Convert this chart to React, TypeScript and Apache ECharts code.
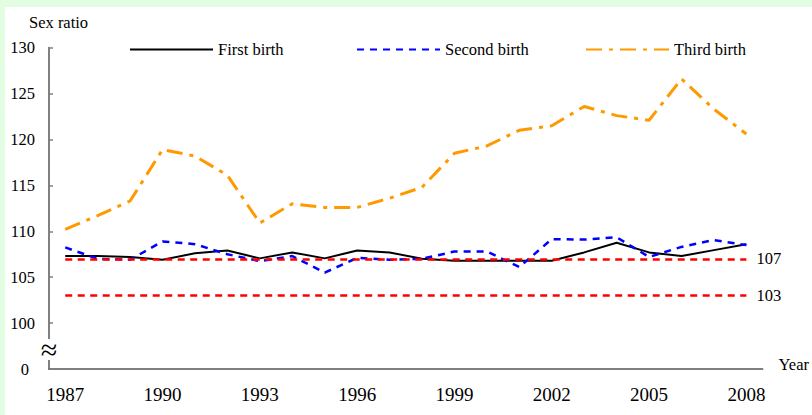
import React, { useEffect, useRef } from 'react';
import * as echarts from 'echarts';

const years = ['1987','1988','1989','1990','1991','1992','1993','1994','1995','1996','1997','1998','1999','2000','2001','2002','2003','2004','2005','2006','2007','2008'];
const firstBirth = [107.3,107.3,107.2,106.9,107.6,107.9,107.05,107.7,107.05,107.9,107.7,107.0,106.8,106.8,106.8,106.8,107.7,108.75,107.7,107.3,107.95,108.6];
const secondBirth = [108.25,107.0,106.9,108.9,108.6,107.5,106.75,107.3,105.5,107.1,106.9,107.0,107.8,107.8,106.1,109.15,109.1,109.35,107.2,108.3,109.05,108.5];
const thirdBirth = [110.2,111.7,113.3,118.9,118.2,116.1,110.9,113.0,112.6,112.6,113.6,114.8,118.5,119.3,121.0,121.5,123.6,122.6,122.1,126.6,123.3,120.6];
const refLevels = [107, 103];
const yTicks = [95, 100, 105, 110, 115, 120, 125, 130];
const breakLabel = '0';

const FONT = '"Liberation Serif", "Times New Roman", serif';

export default function App() {
  const ref = useRef<HTMLDivElement>(null);
  useEffect(() => {
    if (!ref.current) return;
    const chart = echarts.init(ref.current, null, { renderer: 'svg' });
    const legendCommon = {
      top: 41,
      padding: 0,
      itemWidth: 83,
      itemHeight: 14,
      itemStyle: { color: 'rgba(0,0,0,0)', borderWidth: 0, opacity: 0 },
      textStyle: { fontFamily: FONT, fontSize: 16.5, color: '#000' },
      selectedMode: false,
    };
    chart.setOption({
      animation: false,
      backgroundColor: '#ffffff',
      textStyle: { fontFamily: FONT },
      grid: { left: 49, right: 44, top: 47.7, bottom: 46, containLabel: false },
      legend: [
        { ...legendCommon, left: 129, data: ['First birth'] },
        { ...legendCommon, left: 356, data: ['Second birth'] },
        { ...legendCommon, left: 585, data: ['Third birth'] },
      ],
      xAxis: {
        type: 'category',
        data: years,
        boundaryGap: true,
        name: 'Year',
        nameLocation: 'end',
        nameGap: 16,
        nameTextStyle: { fontFamily: FONT, fontSize: 16.5, color: '#000', verticalAlign: 'bottom', padding: [0, 0, -4, 0] },
        axisLine: { lineStyle: { color: '#555555', width: 1.5 } },
        axisTick: { inside: true, length: 5, interval: 0, lineStyle: { color: '#555555', width: 1.2 } },
        axisLabel: { interval: 2, margin: 16, fontFamily: FONT, fontSize: 19, color: '#000' },
        splitLine: { show: false },
      },
      yAxis: {
        type: 'value',
        min: yTicks[0],
        max: yTicks[yTicks.length - 1],
        interval: 5,
        axisLine: { show: true, lineStyle: { color: '#808080', width: 2 } },
        axisTick: { show: true, inside: true, length: 4, lineStyle: { color: '#808080', width: 1.5 } },
        axisLabel: {
          margin: 14,
          fontFamily: FONT,
          fontSize: 16.5,
          color: '#000',
          formatter: (v: number) => (v === yTicks[0] ? '{z|' + breakLabel + '}' : String(v)),
          rich: { z: { fontFamily: FONT, fontSize: 16.5, color: '#000', padding: [0, 6, 0, 0] } },
        },
        splitLine: { show: false },
      },
      graphic: [
        { type: 'rect', left: 0, top: 0, shape: { width: 812, height: 7 }, style: { fill: '#e3fde3' }, z: 100 },
        { type: 'rect', left: 0, top: 0, shape: { width: 5, height: 415 }, style: { fill: '#e3fde3' }, z: 100 },
        { type: 'text', left: 29, top: 14, style: { text: 'Sex ratio', fontFamily: FONT, fontSize: 16.5, fill: '#000' } },
        { type: 'rect', left: 43, top: 339, shape: { width: 12, height: 21 }, style: { fill: '#ffffff' }, z: 100 },
        { type: 'text', x: 49, y: 349, style: { text: '≈', fontFamily: FONT, fontSize: 30, fill: '#000', align: 'center', verticalAlign: 'middle' }, z: 101 },
      ],
      series: [
        {
          name: 'First birth',
          type: 'line',
          data: firstBirth,
          symbol: 'none',
          showSymbol: false,
          lineStyle: { color: '#000000', width: 2 },
          itemStyle: { color: '#000000' },
          z: 3,
        },
        {
          name: 'Second birth',
          type: 'line',
          data: secondBirth,
          symbol: 'none',
          showSymbol: false,
          lineStyle: { color: '#0000ff', width: 2.5, type: [7, 6] },
          itemStyle: { color: '#0000ff' },
          z: 4,
        },
        {
          name: 'Third birth',
          type: 'line',
          data: thirdBirth,
          symbol: 'none',
          showSymbol: false,
          lineStyle: { color: '#ff9900', width: 3, type: [16, 7, 4, 7] },
          itemStyle: { color: '#ff9900' },
          z: 4,
        },
        {
          name: 'Reference',
          type: 'line',
          data: [],
          z: 5,
          markLine: {
            silent: true,
            symbol: 'none',
            lineStyle: { color: '#ff0000', width: 2.5, type: [7, 5.5] },
            label: {
              show: true,
              position: 'end',
              distance: 10,
              fontFamily: FONT,
              fontSize: 16.5,
              color: '#000',
              formatter: (p: any) => String(p.value),
            },
            data: refLevels.map((lv) => [
              { coord: [years[0], lv], value: lv },
              { coord: [years[years.length - 1], lv], value: lv },
            ]),
          },
        },
      ],
    });
    return () => chart.dispose();
  }, []);
  return (
    <div
      ref={ref}
      style={{ position: 'fixed', left: 0, top: 0, width: 812, height: 415 }}
    />
  );
}
